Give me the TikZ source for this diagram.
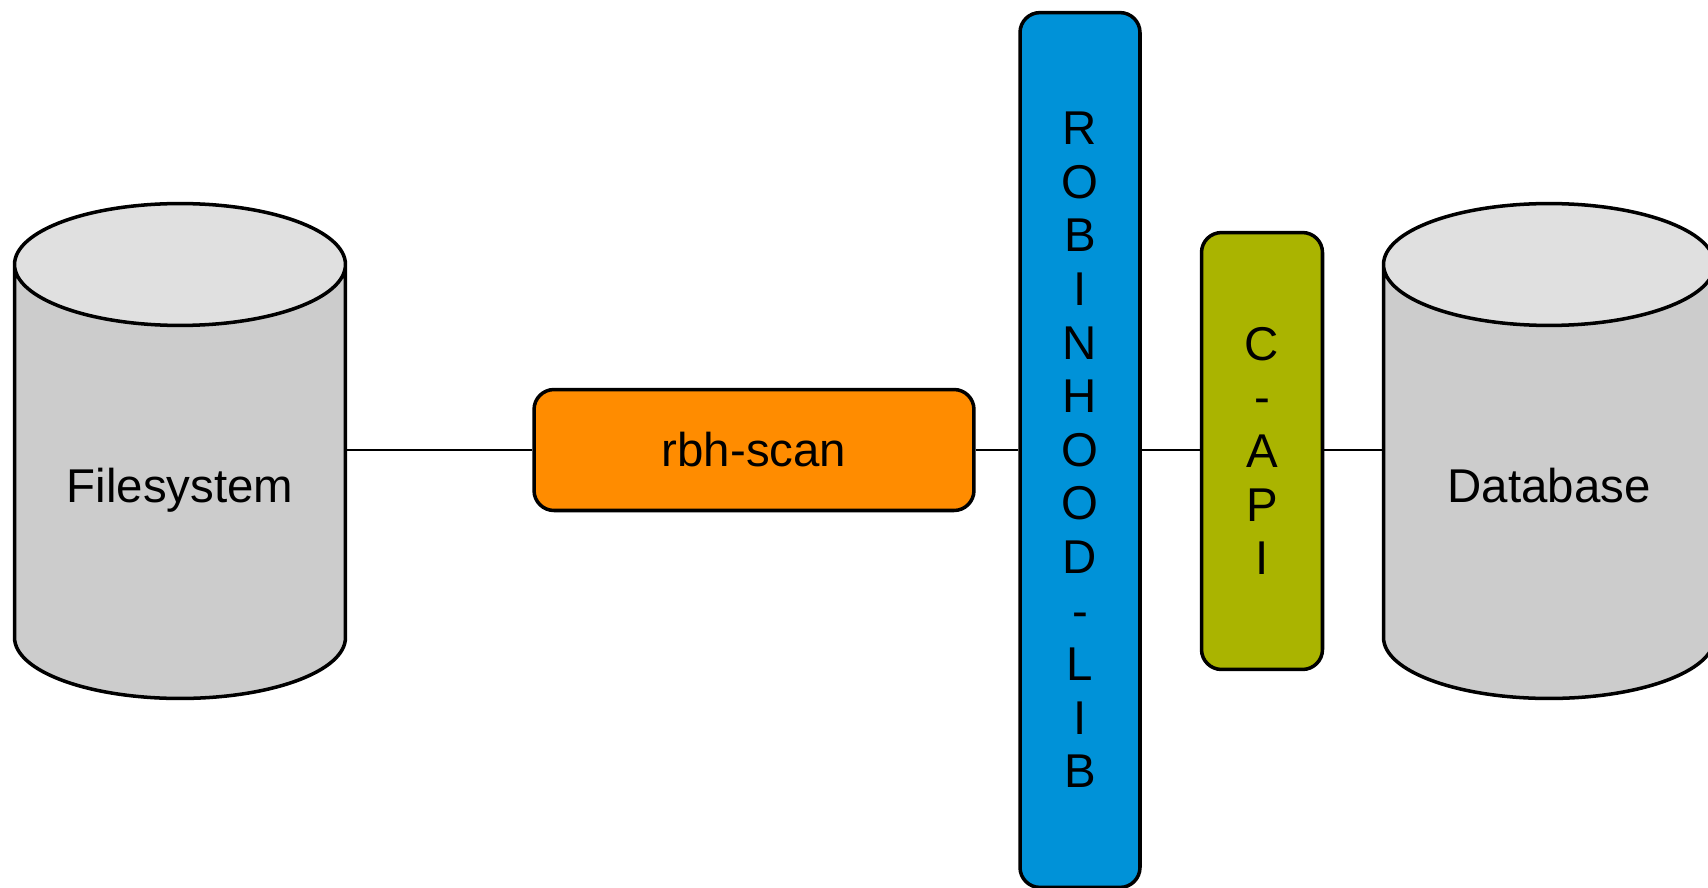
\documentclass[tikz,border=0pt]{standalone}
\usepackage{fontspec}
\setmainfont{Liberation Sans}
\usetikzlibrary{shapes.geometric,positioning}
\definecolor{scanorange}{RGB}{255,140,0}
\definecolor{libblue}{RGB}{0,146,216}
\definecolor{apiolive}{RGB}{170,180,0}
\definecolor{dbbody}{RGB}{204,204,204}
\definecolor{dbtop}{RGB}{224,224,224}

\begin{document}
\begin{tikzpicture}[
    x=0.02cm, y=-0.02cm,
    every node/.style={font=\fontsize{27}{30.5}\selectfont},
    db/.style={cylinder, shape border rotate=90, draw, line width=2pt, aspect=0.53,
        minimum width=6.62cm, minimum height=9.9cm, cylinder uses custom fill,
        cylinder body fill=dbbody, cylinder end fill=dbtop, inner sep=0pt,
        text width=4.6cm, align=center, text height=1.03cm, text depth=0.24cm, anchor=shape center},
    block/.style={rectangle, draw, line width=2pt, rounded corners=0.4cm, align=center, inner sep=0pt},
    link/.style={line width=1.3pt}
]
    \useasboundingbox (0,0) rectangle (1708,887);

    \node[db] (fs) at (180,451) {Filesystem};
    \node[block, fill=scanorange, minimum width=8.8cm, minimum height=2.42cm] (scan) at (754,450) {rbh-scan};
    \node[block, fill=libblue, minimum width=2.4cm, minimum height=17.5cm] (lib) at (1080,450)
        {R\\O\\B\\I\\N\\H\\O\\O\\D\\-\\L\\I\\B};
    \node[block, fill=apiolive, minimum width=2.42cm, minimum height=8.74cm] (capi) at (1262,451)
        {C\\-\\A\\P\\I};
    \node[db] (dbase) at (1549,451) {Database};

    \draw[link] (scan.west -| fs.east) -- (scan.west);
    \draw[link] (scan.east) -- (scan.east -| lib.west);
    \draw[link] (scan.east -| lib.east) -- (scan.east -| capi.west);
    \draw[link] (scan.east -| capi.east) -- (scan.east -| dbase.west);
\end{tikzpicture}
\end{document}
